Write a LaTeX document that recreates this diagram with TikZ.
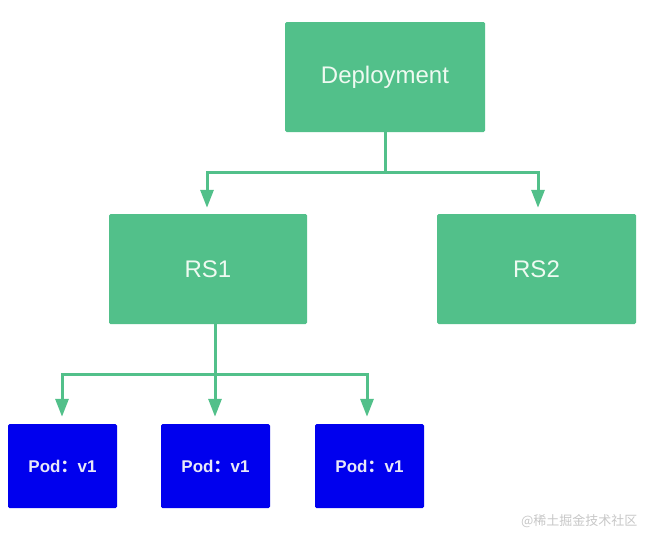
\documentclass[tikz,border=0pt]{standalone}
\usepackage{fontspec}
\setmainfont{Liberation Sans}
\newfontfamily\cjk{Noto Sans CJK SC}
\usetikzlibrary{arrows.meta}
\definecolor{kgreen}{HTML}{52C08A}
\definecolor{kgtext}{HTML}{EEFAF1}
\definecolor{kblue}{HTML}{0000EE}
\definecolor{kbtext}{HTML}{E8E8F8}
\tikzset{
  gbox/.style={fill=kgreen, draw=none, rounded corners=1.5pt, minimum width=200pt, minimum height=110pt, inner sep=0pt, text=kgtext, font=\fontsize{24}{28}\selectfont},
  podbox/.style={fill=kblue, draw=none, rounded corners=1.5pt, minimum width=109pt, minimum height=84pt, inner sep=0pt, text=kbtext, font=\bfseries\fontsize{17}{20}\selectfont},
  link/.style={draw=kgreen, line width=3pt},
  arr/.style={link, -{Triangle[length=18pt,width=13pt]}}
}
\begin{document}
\begin{tikzpicture}[x=1pt,y=-1pt]
\useasboundingbox (0,0) rectangle (655,541);
\node[gbox] (dep) at (385,77) {Deployment};
\node[gbox, minimum width=198pt] (rs1) at (208,269) {RS1};
\node[gbox, minimum width=199pt] (rs2) at (536.5,269) {RS2};
\node[podbox] (p1) at (62.5,466) {Pod{\cjk ：}v1};
\node[podbox] (p2) at (215.5,466) {Pod{\cjk ：}v1};
\node[podbox] (p3) at (369.5,466) {Pod{\cjk ：}v1};
% Deployment -> RS
\coordinate (dj) at (385,172);
\draw[link] (dep.south) -- (dj);
\draw[arr] (dj) -| ([xshift=-1pt,yshift=6pt]rs1.north);
\draw[arr] (dj) -| ([xshift=1.5pt,yshift=6pt]rs2.north);
% RS1 -> Pods
\coordinate (rj) at (215,374);
\draw[arr] ([xshift=7pt]rs1.south) -- ([xshift=-0.5pt,yshift=7pt]p2.north);
\draw[arr] (rj) -| ([xshift=-0.5pt,yshift=7pt]p1.north);
\draw[arr] (rj) -| ([xshift=-2.5pt,yshift=7pt]p3.north);
\node[text=black!22, font=\cjk\fontsize{13}{15}\selectfont, anchor=east] (wm) at (641,521) {@稀土掘金技术社区};
\end{tikzpicture}
\end{document}
